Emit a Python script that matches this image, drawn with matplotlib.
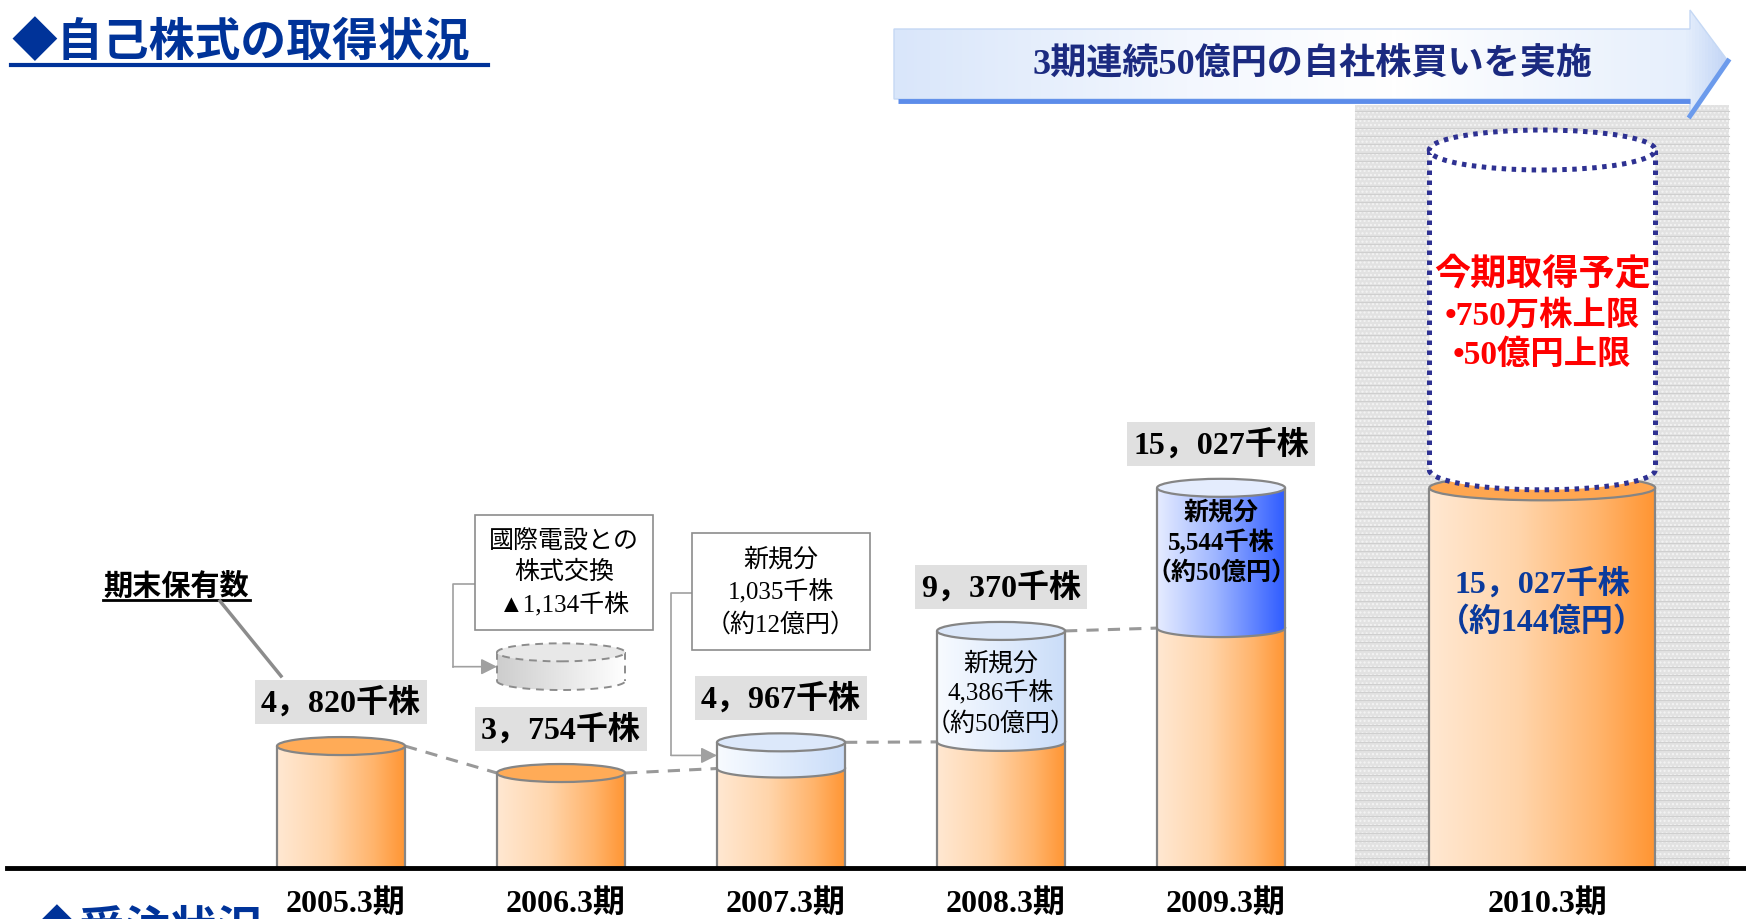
import numpy as np
import matplotlib
matplotlib.use('Agg')
import matplotlib.pyplot as plt
from matplotlib.patches import Polygon, Ellipse, Rectangle
from matplotlib.colors import LinearSegmentedColormap

# data (千株 = thousand shares)
periods = ['2005.3期', '2006.3期', '2007.3期', '2008.3期', '2009.3期', '2010.3期']
held_total = [4820, 3754, 4967, 9370, 15027, 15027]
new_buy = [0, 0, 1035, 4386, 5544, 0]
new_buy_oku = [0, 0, 12, 50, 50, 0]
exchange_out = 1134          # 國際電設との株式交換 (2006.3期)
total_oku_2010 = 144
plan_man_shares = 750
plan_oku = 50

SERIF = ['Liberation Serif', 'Noto Sans CJK JP']
SANS = ['Noto Sans CJK JP', 'DejaVu Sans']
plt.rcParams['font.family'] = SERIF

W, H = 1746, 920
XMIN, XMAX = -1.55, 6.386
YMIN, YMAX = -2016, 34348
xpos = [0, 1, 2, 3, 4, 5.46]
widths = [0.582] * 5 + [1.027]

EDGE = '#858585'
ORANGE = LinearSegmentedColormap.from_list('o', [(0, '#FFE8D2'), (0.4, '#FFD5AB'), (0.75, '#FFB46C'), (1, '#FF9532')])
LIGHT = LinearSegmentedColormap.from_list('l', [(0, '#F8FBFF'), (1, '#CADDF9')])
BLUE = LinearSegmentedColormap.from_list('b', [(0, '#E6ECFF'), (0.45, '#9FB6FF'), (1, '#2E5BFF')])
GHOST = LinearSegmentedColormap.from_list('g', [(0, '#CDCDCD'), (1, '#FFFFFF')])
BANNER = LinearSegmentedColormap.from_list('bn', [(0, '#D9E6FA'), (0.35, '#F3F7FE'), (0.6, '#FFFFFF'),
                                                  (0.95, '#E6EFFC'), (1, '#C3D6F6')])
GRAD = np.linspace(0, 1, 256)[None, :]


def to_px(x, y):
    return ((x - XMIN) / (XMAX - XMIN) * W, H - (y - YMIN) / (YMAX - YMIN) * H)


def dpx(p):
    return p * (YMAX - YMIN) / H


def sen(v, sep='，'):
    return f"{v // 1000}{sep}{v % 1000:03d}千株"


fig = plt.figure(figsize=(W / 100, H / 100), dpi=100)
back = fig.add_axes([0, 0, 1, 1], zorder=0)
ax = fig.add_axes([0, 0, 1, 1], zorder=1)
front = fig.add_axes([0, 0, 1, 1], zorder=2)
for a in (back, front):
    a.set_xlim(0, W)
    a.set_ylim(H, 0)
    a.axis('off')
ax.axis('off')

zc = [2.0]


def nz():
    zc[0] += 0.01
    return zc[0]


def body(xc, w, y0, y1, eh, cmap, arc=True, ls='-', ec=EDGE, lw=1.6):
    z = nz()
    t = np.linspace(np.pi, 2 * np.pi, 80)
    if arc:
        bx = xc + w / 2 * np.cos(t)
        by = y0 + eh / 2 * np.sin(t)
    else:
        bx = np.array([xc - w / 2, xc + w / 2])
        by = np.array([y0, y0])
    verts = np.column_stack([np.r_[xc - w / 2, bx, xc + w / 2], np.r_[y1, by, y1]])
    poly = Polygon(verts, closed=True, fc='none', ec='none', zorder=z)
    ax.add_patch(poly)
    if cmap is None:
        poly.set_facecolor('white')
    else:
        im = ax.imshow(GRAD, cmap=cmap, extent=(xc - w / 2, xc + w / 2, y0 - eh / 2, y1),
                       aspect='auto', interpolation='bilinear', zorder=z)
        im.set_clip_path(poly)
    capstyle = 'butt'
    ax.plot([xc - w / 2] * 2, [y1, y0], color=ec, lw=lw, ls=ls, zorder=z, solid_capstyle=capstyle)
    ax.plot([xc + w / 2] * 2, [y1, y0], color=ec, lw=lw, ls=ls, zorder=z, solid_capstyle=capstyle)
    if arc:
        ax.plot(bx, by, color=ec, lw=lw, ls=ls, zorder=z)


def top(xc, w, y, eh, fc, ls='-', ec=EDGE, lw=1.6):
    ax.add_patch(Ellipse((xc, y), w, eh, fc=fc, ec=ec, lw=lw, ls=ls, zorder=nz()))


EH = dpx(18)
EH10 = dpx(25)

# grey panel behind 2010
gx0, _ = to_px(xpos[5] - 0.85, 0)
gx1, gy1 = to_px(xpos[5] + 0.85, 0)
back.add_patch(Rectangle((gx0, 106), gx1 - gx0, gy1 - 106, fc='#E2E2E2', ec='#F4F4F4', lw=0,
                         hatch='....', zorder=1))
for yy in np.arange(112, gy1, 8.3):
    back.plot([gx0, gx1], [yy, yy], color='#CFCFCF', lw=0.8, zorder=1.5)

# banner arrow
arrow = Polygon([(894, 30), (1690, 30), (1690, 11), (1728, 62), (1690, 117), (1690, 100), (894, 100)],
                closed=True, fc='none', ec='#C5D8F4', lw=1, zorder=3)
back.add_patch(arrow)
bim = back.imshow(GRAD, cmap=BANNER, extent=(894, 1728, 117, 11), aspect='auto', zorder=2.5)
bim.set_clip_path(arrow)
back.plot([898, 1690], [102, 102], color='#5C8CEA', lw=3.5, zorder=3.2, solid_capstyle='butt')
back.plot([1728, 1690], [62, 117], color='#6C9BEC', lw=3.5, zorder=3.2)
back.text(1312, 66, f'3期連続{plan_oku}億円の自社株買いを実施', ha='center', va='center',
          fontsize=26, fontweight='bold', color='#1B2A80', zorder=4)

# title
front.text(11, 43, '◆自己株式の取得状況', ha='left', va='center', fontsize=33, fontweight='bold',
           color='#003399', family=SANS)
front.plot([11, 488], [66, 66], color='#003399', lw=3)
front.text(33, 908, '◆受注状況', ha='left', va='top', fontsize=33, fontweight='bold',
           color='#003399', family=SANS)

# cylinders
for i in range(6):
    xc, w, tot = xpos[i], widths[i], held_total[i]
    base = tot - new_buy[i]
    eh = EH10 if i == 5 else EH
    body(xc, w, 0, base, eh, ORANGE, arc=False)
    if new_buy[i]:
        body(xc, w, base, tot, eh, BLUE if i == 4 else LIGHT)
        top(xc, w, tot, eh, '#E4ECFD' if i == 4 else '#DCE8FA')
    else:
        top(xc, w, tot, eh, '#FFAB57' if i < 5 else '#FFA650')

# dashed links between consecutive bars
for i in range(4):
    nxt = held_total[i + 1] - new_buy[i + 1]
    ax.plot([xpos[i] + widths[i] / 2, xpos[i + 1] - widths[i + 1] / 2], [held_total[i], nxt],
            color='#999999', lw=2.2, dashes=(4, 3), zorder=1.5)

# ghost cylinder (share exchange) above 2006
gb = held_total[1] + dpx(92)
body(xpos[1], widths[1], gb, gb + exchange_out, EH, GHOST, ls=(0, (4, 3)), ec='#8C8C8C', lw=1.4)
top(xpos[1], widths[1], gb + exchange_out, EH, '#E8E8E8', ls=(0, (4, 3)), ec='#8C8C8C', lw=1.4)

# 2010 plan cylinder (dotted frame)
PLAN_TOP_PX = 151
pb = held_total[5] + dpx(18)
pt = YMIN + (H - PLAN_TOP_PX) / H * (YMAX - YMIN)
NAVY = '#2E3192'
dots = (0, (0.9, 1.1))
body(xpos[5], widths[5], pb, pt, dpx(40), None, ls=dots, ec=NAVY, lw=3.6)
top(xpos[5], widths[5], pt, dpx(40), 'white', ls=dots, ec=NAVY, lw=3.6)

ax.axhline(0, xmin=7 / W, xmax=1, color='black', lw=3.5, zorder=20)
ax.set_xlim(XMIN, XMAX)
ax.set_ylim(YMIN, YMAX)

# value labels
label_px = []
for i in range(5):
    px, py = to_px(xpos[i], held_total[i])
    py -= 44
    label_px.append((px, py))
    front.text(px, py, sen(held_total[i]), ha='center', va='center', fontsize=23, fontweight='bold',
               bbox=dict(boxstyle='square,pad=0.2', fc='#E0E0E0', ec='none'))

# period labels
for i, p in enumerate(periods):
    px, _ = to_px(xpos[i], 0)
    front.text(px + 5, 904, p, ha='center', va='center', fontsize=23, fontweight='bold')

# 期末保有数 callout
lx, ly = label_px[0]
front.text(lx - 165, ly - 116, '期末保有数', ha='center', va='center', fontsize=21, fontweight='bold')
front.plot([lx - 238, lx - 91], [ly - 102, ly - 102], color='black', lw=2)
front.plot([lx - 121, lx - 60], [ly - 101, ly - 26], color='#8C8C8C', lw=2.5)

# share exchange box
gx, gyt = to_px(xpos[1], gb + exchange_out)
_, gym = to_px(xpos[1], gb + exchange_out / 2)
gleft, _ = to_px(xpos[1] - widths[1] / 2, 0)
bx1, by1 = gx + 3, gyt - 80
front.text(bx1, by1, f'國際電設との\n株式交換\n▲{exchange_out // 1000},{exchange_out % 1000:03d}千株',
           ha='center', va='center', fontsize=18, linespacing=1.45,
           bbox=dict(boxstyle='square,pad=0.55', fc='white', ec='#8C8C8C', lw=1.2))
front.plot([bx1 - 85, bx1 - 111, bx1 - 111], [by1 + 12, by1 + 12, gym], color='#A0A0A0', lw=1.2)
front.annotate('', xy=(gleft, gym), xytext=(bx1 - 111, gym),
               arrowprops=dict(arrowstyle='-|>', color='#A0A0A0', lw=1.2, mutation_scale=24,
                               shrinkA=0, shrinkB=0))

# 2007 new purchase box
px2, pyt2 = to_px(xpos[2], held_total[2])
_, pym2 = to_px(xpos[2], held_total[2] - new_buy[2] / 2)
left2, _ = to_px(xpos[2] - widths[2] / 2, 0)
bx2, by2 = px2, pyt2 - 151
front.text(bx2, by2, f'新規分\n{sen(new_buy[2], ",")}\n（約{new_buy_oku[2]}億円）', ha='center', va='center',
           fontsize=18, linespacing=1.45,
           bbox=dict(boxstyle='square,pad=0.55', fc='white', ec='#8C8C8C', lw=1.2))
front.plot([bx2 - 81, bx2 - 110, bx2 - 110], [by2 + 2, by2 + 2, pym2], color='#A0A0A0', lw=1.2)
front.annotate('', xy=(left2, pym2), xytext=(bx2 - 110, pym2),
               arrowprops=dict(arrowstyle='-|>', color='#A0A0A0', lw=1.2, mutation_scale=24,
                               shrinkA=0, shrinkB=0))

# texts inside bars
px3, py3 = to_px(xpos[3], held_total[3] - new_buy[3] / 2)
front.text(px3, py3 + 6, f'新規分\n{sen(new_buy[3], ",")}\n（約{new_buy_oku[3]}億円）', ha='center',
           va='center', fontsize=18, linespacing=1.3)
px4, py4 = to_px(xpos[4], held_total[4] - new_buy[4] / 2)
front.text(px4, py4 - 16, f'新規分\n{sen(new_buy[4], ",")}\n（約{new_buy_oku[4]}億円）', ha='center',
           va='center', fontsize=18, fontweight='bold', linespacing=1.3)
px5, py5 = to_px(xpos[5], held_total[5] * 0.7)
front.text(px5, py5, f'{sen(held_total[5])}\n（約{total_oku_2010}億円）', ha='center', va='center',
           fontsize=23, fontweight='bold', color='#0A3A9C', linespacing=1.3)

_, pmid = to_px(xpos[5], (pb + pt) / 2)
front.text(px5, pmid - 36, '今期取得予定', ha='center', va='center', fontsize=26, fontweight='bold', color='red')
front.text(px5, pmid + 5, f'•{plan_man_shares}万株上限', ha='center', va='center', fontsize=24,
           fontweight='bold', color='red')
front.text(px5, pmid + 44, f'•{plan_oku}億円上限', ha='center', va='center', fontsize=24,
           fontweight='bold', color='red')

fig.savefig('out.png', dpi=100)
